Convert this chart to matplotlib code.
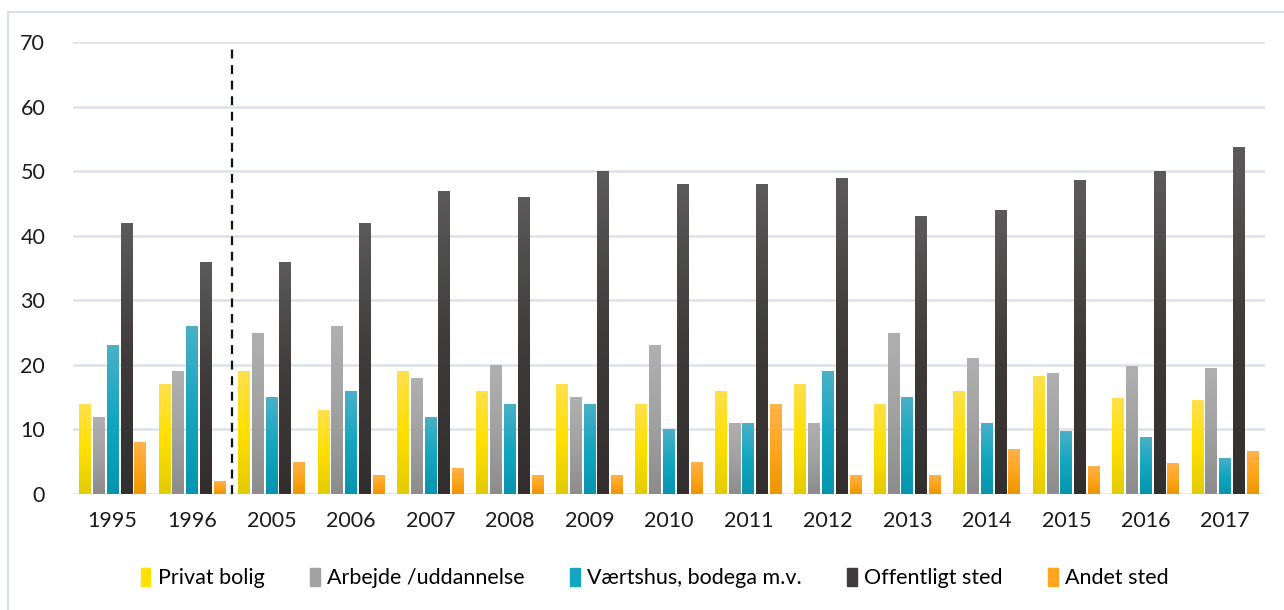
import matplotlib
matplotlib.use("Agg")
import matplotlib.pyplot as plt
from matplotlib.colors import LinearSegmentedColormap
from matplotlib.patches import Rectangle
import numpy as np

# ── Data ──────────────────────────────────────────────────────────────────────
years = ["1995", "1996", "2005", "2006", "2007", "2008", "2009", "2010",
         "2011", "2012", "2013", "2014", "2015", "2016", "2017"]
privat   = [14, 17, 19, 13, 19, 16, 17, 14, 16, 17, 14, 16, 18.2, 14.9, 14.5]
arbejde  = [12, 19, 25, 26, 18, 20, 15, 23, 11, 11, 25, 21, 18.8, 19.9, 19.5]
vaerts   = [23, 26, 15, 16, 12, 14, 14, 10, 11, 19, 15, 11, 9.7, 8.9, 5.6]
offentl  = [42, 36, 36, 42, 47, 46, 50, 48, 48, 49, 43, 44, 48.7, 50, 53.7]
andet    = [8, 2, 5, 3, 4, 3, 3, 5, 14, 3, 3, 6.9, 4.4, 4.8, 6.6]

labels = ["Privat bolig", "Arbejde /uddannelse", "Værtshus, bodega m.v.",
          "Offentligt sted", "Andet sted"]
series = [privat, arbejde, vaerts, offentl, andet]

# gradient stops (top, middle, bottom)
grads = [
    ["#FFE04D", "#FFE000", "#E3CB00"],
    ["#B0B0B2", "#A2A2A2", "#8C8C8C"],
    ["#4BB0C8", "#14A6C0", "#0595AE"],
    ["#5C5A5A", "#3E3B3A", "#312E2D"],
    ["#FFB24C", "#FFA51F", "#EC9600"],
]
solid = ["#FFE000", "#A2A2A2", "#14A6C0", "#3E3B3A", "#FFA51F"]

plt.rcParams["font.family"] = ["Lato", "DejaVu Sans"]

fig = plt.figure(figsize=(12.84, 6.10), dpi=100)
ax = fig.add_axes([73 / 1284, 1 - 494 / 610, (1265 - 73) / 1284, (494 - 42) / 610])

# outer chart frame
fig.patches.append(Rectangle((8 / 1284, -0.1), 1.2, 1 - 12 / 610 + 0.1,
                             transform=fig.transFigure, fill=False,
                             edgecolor="#D9DFE6", linewidth=1.5, zorder=0))

x = np.arange(len(years))
slot = 0.1736
bw = 0.151
grad = np.linspace(0, 1, 256).reshape(-1, 1)

for i, (vals, g, c, lab) in enumerate(zip(series, grads, solid, labels)):
    cmap = LinearSegmentedColormap.from_list(f"g{i}", g[::-1])
    pos = x + (i - 2) * slot
    bars = ax.bar(pos, vals, width=bw, color=c, label=lab, zorder=2)
    for b in bars:
        x0, h = b.get_x(), b.get_height()
        im = ax.imshow(grad, extent=[x0, x0 + bw, 0, h], origin="lower",
                       cmap=cmap, aspect="auto", zorder=3)
        im.set_clip_path(b)

# separator between 1996 and 2005
ax.plot([1.5, 1.5], [0, 69.7], color="#111111", linestyle=(0, (4, 3)),
        linewidth=1.6, zorder=4)

ax.set_xlim(-0.5, 14.5)
ax.set_ylim(0, 70)
ax.set_yticks(range(0, 71, 10))
ax.set_xticks(x)
ax.set_xticklabels(years)
ax.yaxis.grid(True, color="#DDE2E8", linewidth=1.8, zorder=0)
ax.set_axisbelow(True)
for s in ax.spines.values():
    s.set_visible(False)
ax.tick_params(axis="both", length=0, labelsize=15.5, colors="#1A1A1A")
ax.tick_params(axis="y", pad=20)
ax.tick_params(axis="x", pad=12)

handles = [Rectangle((0, 0), 1, 1, color=c) for c in solid]
fig.legend(handles, labels, loc="center", bbox_to_anchor=(0.51, 1 - 578 / 610),
           ncol=5, frameon=False, fontsize=15.5, handlelength=0.45,
           handleheight=0.9, handletextpad=0.35, columnspacing=2.1)

fig.savefig("out.png", dpi=100)
